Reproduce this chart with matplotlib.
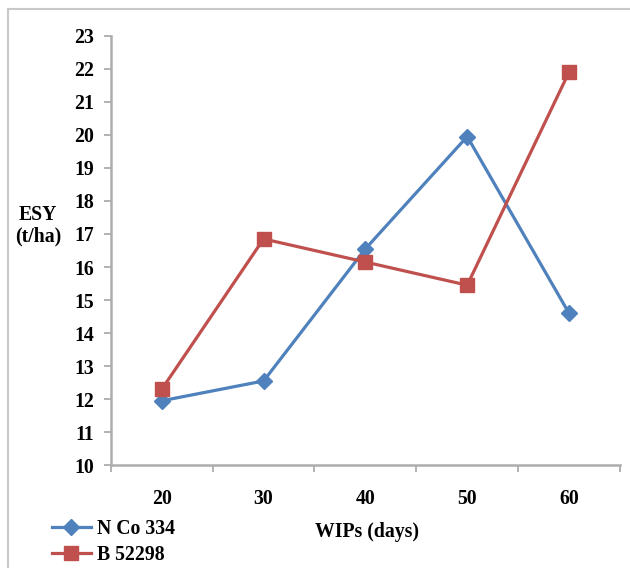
import matplotlib.pyplot as plt
import numpy as np
from matplotlib.patches import Rectangle

# data
wips = ["20", "30", "40", "50", "60"]
nco_334 = [11.95, 12.55, 16.55, 19.95, 14.6]
b_52298 = [12.3, 16.85, 16.15, 15.45, 21.9]
y_ticks = list(range(10, 24))

blue = "#4F81BD"
red = "#C0504D"
grey = "#ADADAD"

plt.rcParams["font.family"] = ["Liberation Serif", "DejaVu Serif"]
plt.rcParams["font.weight"] = "bold"
fs = 14.2

fig = plt.figure(figsize=(6.3, 5.68), dpi=100)
ax = fig.add_axes([0.176, 0.181, 0.808, 0.756])

x = np.arange(len(wips))
l1, = ax.plot(x, nco_334, color=blue, lw=2.3, marker="D", ms=8, label="N Co 334")
l2, = ax.plot(x, b_52298, color=red, lw=2.3, marker="s", ms=10, label="B 52298")

ax.set_xlim(-0.5, len(wips) - 0.5)
ax.set_ylim(10, 23)
ax.set_yticks(y_ticks)
ax.set_yticklabels([str(v) for v in y_ticks], fontsize=fs, fontweight="bold")

# category labels between boundary ticks (Excel style)
ax.set_xticks(np.arange(-0.5, len(wips), 1.0))
ax.set_xticklabels([])
ax.set_xticks(x, minor=True)
ax.set_xticklabels(wips, minor=True, fontsize=fs, fontweight="bold")
ax.tick_params(axis="x", which="minor", length=0, pad=17)
ax.tick_params(axis="x", which="major", length=5, width=1.3, color=grey, direction="out")
ax.tick_params(axis="y", length=5, width=1.3, color=grey, direction="out", pad=7)

for s in ["top", "right"]:
    ax.spines[s].set_visible(False)
for s in ["left", "bottom"]:
    ax.spines[s].set_color(grey)
    ax.spines[s].set_linewidth(1.8)

fig.text(0.06, 0.622, "ESY", ha="center", va="center", fontsize=fs, fontweight="bold")
fig.text(0.06, 0.584, "(t/ha)", ha="center", va="center", fontsize=fs, fontweight="bold")
fig.text(0.582, 0.063, "WIPs (days)", ha="center", va="center", fontsize=fs, fontweight="bold")

fig.legend(handles=[l1, l2], loc="upper left", bbox_to_anchor=(0.082, 0.086),
           frameon=False, fontsize=fs, handlelength=2.0, handletextpad=0.3,
           labelspacing=0.3, borderpad=0, borderaxespad=0)

# light chart-area frame, cut off at right and bottom like the reference
fig.patches.append(Rectangle((8 / 630, -0.05), 1.1, 1 - 9 / 568 + 0.05,
                             transform=fig.transFigure, fill=False,
                             edgecolor="#C8C8C8", lw=1.5))

fig.savefig("out.png", dpi=100)
